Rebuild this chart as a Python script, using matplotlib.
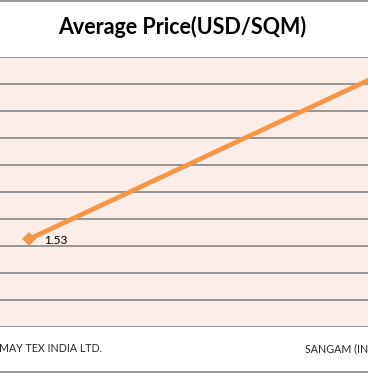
import matplotlib.pyplot as plt
from matplotlib.patches import Rectangle

# chart data (crop of a wider Excel chart)
companies = ['MAY TEX INDIA LTD.', 'SANGAM (INDIA) LTD.']
avg_price = [1.53, 4.39]
price_labels = ['1.53', '']

y_max = 4.7
n_grid = 10

plt.rcParams['font.family'] = ['Lato', 'DejaVu Sans']

fig = plt.figure(figsize=(3.68, 3.73), dpi=100)
W, H = 368, 373

# chart border (left/right sides are outside the crop)
fig.patches.append(Rectangle((-0.1, 1 / H), 1.2, (H - 2) / H, transform=fig.transFigure,
                             facecolor='white', edgecolor='#868686', linewidth=1.2, zorder=-1))

# plot area: x from -146.5px to 555.5px, y from 57px to 327px (from top)
ax = fig.add_axes([-146.5 / W, 46 / H, 702 / W, 270 / H])
ax.set_facecolor('#FBEDE7')
ax.set_xlim(-0.5, 1.5)
ax.set_ylim(0, y_max)
ax.set_yticks([y_max * i / n_grid for i in range(n_grid + 1)])
ax.yaxis.grid(True, color='#868686', linewidth=1.2)
ax.set_axisbelow(True)
for s in ax.spines.values():
    s.set_visible(False)
ax.tick_params(left=False, bottom=False, labelleft=False, labelbottom=False)

x = list(range(len(companies)))
ax.plot(x, avg_price, color='#F79646', linewidth=3.4, marker='D', markersize=7,
        markeredgewidth=0, clip_on=False, solid_capstyle='butt')

for xi, v, lab in zip(x, avg_price, price_labels):
    if lab:
        ax.annotate(lab, (xi, v), xytext=(15, -1), textcoords='offset pixels',
                    ha='left', va='center', fontsize=8.6, color='black')

# category labels (cut off by the crop like the reference)
ax.annotate(companies[0], (x[0], 0), xytext=(73, -22), textcoords='offset pixels',
            ha='right', va='center', fontsize=7.7, color='#262626', annotation_clip=False)
ax.annotate(companies[1], (x[1], 0), xytext=(-75, -22), textcoords='offset pixels',
            ha='left', va='center', fontsize=7.7, color='#262626', annotation_clip=False)

fig.text(182 / W, 1 - 27 / H, 'Average Price(USD/SQM)', ha='center', va='center',
         fontsize=15.5, fontweight='bold', color='black')

plt.savefig('out.png', dpi=100)
